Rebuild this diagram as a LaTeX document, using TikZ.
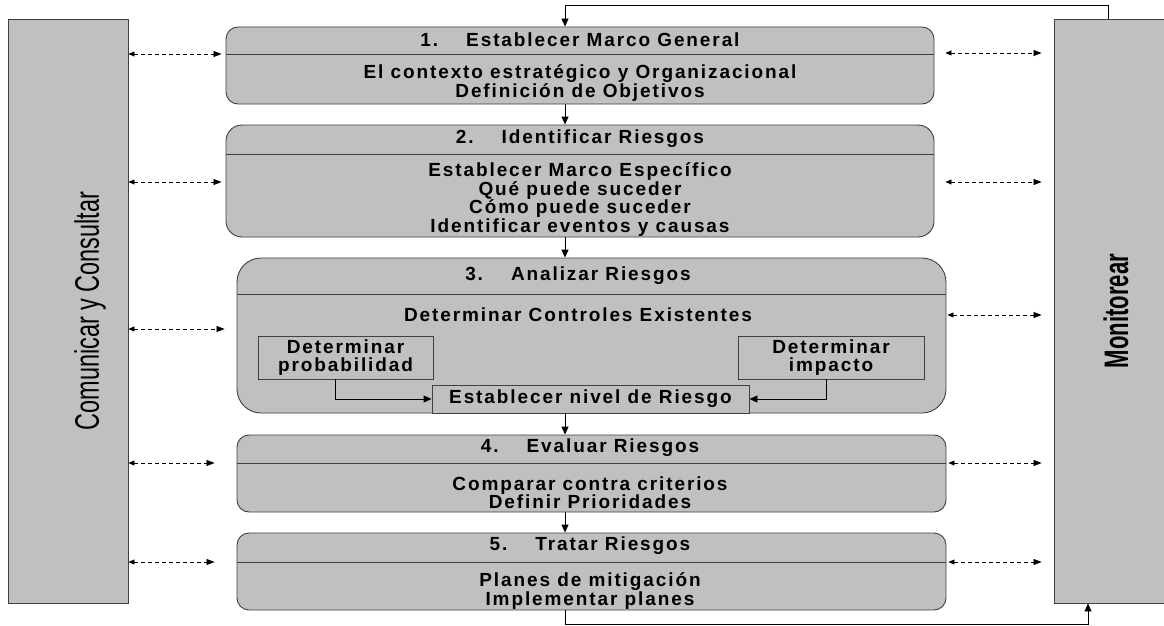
\documentclass[tikz,border=0pt]{standalone}
\usepackage{fontspec}
\setmainfont{Liberation Sans}
\newfontfamily\boxfont[LetterSpace=10]{Liberation Sans}
\usetikzlibrary{arrows.meta}
\definecolor{boxgray}{RGB}{192,192,192}
\definecolor{edgegray}{RGB}{64,64,64}
\begin{document}
\begin{tikzpicture}
[x=1pt,y=-1pt,>={Triangle[length=8pt,width=7pt]},
 stage/.style={draw=edgegray,fill=boxgray,line width=0.9pt,rounded corners=12pt,inner sep=0pt},
 subbox/.style={draw=edgegray,fill=boxgray,line width=0.9pt,inner sep=0pt,align=center,font=\boxfont\bfseries\fontsize{19}{18.5}\selectfont},
 side/.style={draw=edgegray,fill=boxgray,line width=0.9pt,inner sep=0pt},
 txt/.style={inner sep=0pt,align=center,font=\boxfont\bfseries\fontsize{19}{18.5}\selectfont},
 flow/.style={->,line width=0.9pt},
 talk/.style={{Triangle[length=6pt,width=5pt]}-{Triangle[length=8pt,width=6pt]},line width=0.7pt,dash pattern=on 4pt off 3pt},]
\useasboundingbox (0,0) rectangle (1164,626);
\node (comm) at (68,311) [side,minimum width=120pt,minimum height=584pt] {};
\node (mon) at (1112,311) [side,minimum width=116pt,minimum height=584pt] {};
\node (commtxt) at (90,311) [rotate=90] {\scalebox{0.69}[1]{\fontsize{34}{34}\selectfont Comunicar y Consultar}};
\node (montxt) at (1116,311) [rotate=90] {\scalebox{0.65}[1]{\fontsize{34}{34}\selectfont\bfseries Monitorear}};

\node (b1) at (580,65.5) [stage,minimum width=708pt,minimum height=77pt] {};
\node (b2) at (580,181) [stage,rounded corners=16pt,minimum width=708pt,minimum height=112pt] {};
\node (b3) at (591.5,335.5) [stage,rounded corners=24pt,minimum width=709pt,minimum height=155pt] {};
\node (b4) at (591.5,473.5) [stage,minimum width=709pt,minimum height=77pt] {};
\node (b5) at (591.5,571.5) [stage,minimum width=709pt,minimum height=77pt] {};
\foreach \b/\y in {b1/54,b2/154,b3/294,b4/463,b5/562}
  \draw[edgegray,line width=0.9pt] (\b.west |- 0,\y) -- (\b.east |- 0,\y);

\node (h1) at (580,40) [txt] {1.\hspace{28pt}Establecer Marco General};
\node (t1) at (580,83) [txt] {El contexto estratégico y Organizacional\\Definición de Objetivos};
\node (h2) at (580,139) [txt] {2.\hspace{28pt}Identificar Riesgos};
\node (t2) at (580,199.5) [txt] {Establecer Marco Específico\\Qué puede suceder\\Cómo puede suceder\\Identificar eventos y causas};
\node (h3) at (578,276) [txt] {3.\hspace{28pt}Analizar Riesgos};
\node (t3) at (578,315) [txt] {Determinar Controles Existentes};
\node (prob) at (345.5,357.5) [subbox,minimum width=175pt,minimum height=43pt] {Determinar\\probabilidad};
\node (imp) at (831,357.5) [subbox,minimum width=186pt,minimum height=43pt] {Determinar\\impacto};
\node (nivel) at (590.5,399) [subbox,minimum width=317pt,minimum height=28pt] {Establecer nivel de Riesgo};
\node (h4) at (590,448) [txt] {4.\hspace{28pt}Evaluar Riesgos};
\node (t4) at (590,492.5) [txt] {Comparar contra criterios\\Definir Prioridades};
\node (h5) at (590,546) [txt] {5.\hspace{28pt}Tratar Riesgos};
\node (t5) at (590,591) [txt] {Planes de mitigación\\Implementar planes};

\coordinate (spine) at (565,0);
\draw[flow] (b1.south -| spine) -- (b2.north -| spine);
\draw[flow] (b2.south -| spine) -- (b3.north -| spine);
\draw[flow] (nivel.south -| spine) -- (b4.north -| spine);
\draw[flow] (b4.south -| spine) -- (b5.north -| spine);
\draw[flow] ([xshift=-10.5pt]prob.south) |- (nivel.west);
\draw[flow] ([xshift=-5pt]imp.south) |- (nivel.east);

\coordinate (fbtop) at (1108,5);
\coordinate (fbbot) at (1088,624);
\draw[flow] (mon.north -| fbtop) -- (fbtop) -| (b1.north -| spine);
\draw[flow] (b5.south -| spine) |- (fbbot) -- (mon.south -| fbbot);

\foreach \b/\y/\g in {b1/54/4pt,b2/182/4pt,b3/329/12pt,b4/463/22pt,b5/562/22pt}
  \draw[talk] (comm.east |- 0,\y) -- ([xshift=-\g]\b.west |- 0,\y);
\foreach \b/\y/\g in {b1/53/11pt,b2/182/11pt,b3/315/1pt,b4/463/2pt,b5/562/2pt}
  \draw[talk] ([xshift=\g]\b.east |- 0,\y) -- ([xshift=-12pt]mon.west |- 0,\y);
\end{tikzpicture}
\end{document}
